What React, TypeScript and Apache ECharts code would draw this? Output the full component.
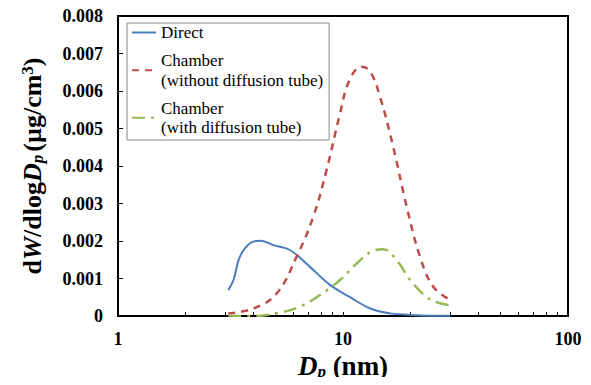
import React, { useEffect, useRef } from "react";
import * as echarts from "echarts";

const directX = [3.09, 3.26, 3.48, 3.86, 4.28, 4.9, 5.81, 7.13, 8.75, 10.7, 13.2, 16.2, 19.8, 24.5, 29.9];
const directY = [0.00069, 0.00096, 0.00158, 0.00194, 0.00201, 0.00189, 0.00176, 0.00131, 0.00083, 0.00051, 0.0002, 0.00007, 0.00003, 0.00001, 0.00001];

const noTubeX = [3.09, 4.0, 5.07, 6.22, 7.38, 8.46, 9.7, 10.7, 12.1, 13.2, 14.6, 16.7, 19.2, 22.0, 25.2, 29.9];
const noTubeY = [0.00007, 0.0002, 0.0006, 0.00158, 0.00265, 0.0039, 0.0054, 0.0063, 0.00665, 0.00652, 0.00585, 0.00452, 0.00291, 0.00158, 0.00078, 0.00043];

const tubeX = [3.09, 4.0, 5.25, 6.44, 7.9, 9.7, 11.5, 13.6, 15.1, 17.3, 19.9, 23.5, 27.0, 29.9];
const tubeY = [0.00001, 0.0, 0.00009, 0.00025, 0.00056, 0.00096, 0.0014, 0.00174, 0.00178, 0.00149, 0.00096, 0.00051, 0.00034, 0.00029];

const seriesNames = ["Direct", "Chamber\n(without diffusion tube)", "Chamber\n(with diffusion tube)"];
const xTicks = [1, 2, 3, 4, 5, 6, 7, 8, 9, 10, 20, 30, 40, 50, 60, 70, 80, 90, 100];
const xLabels = [1, 10, 100];

const zip = (xs: number[], ys: number[]) => xs.map((x, i) => [x, ys[i]]);

const SERIF = "Liberation Serif";
const tickRich = { t: { fontFamily: SERIF, fontSize: 18, fontWeight: "bold", color: "#000" } };

export default function App() {
  const ref = useRef<HTMLDivElement>(null);
  useEffect(() => {
    if (!ref.current) return;
    const chart = echarts.init(ref.current, undefined, { renderer: "svg" });
    chart.setOption({
      animation: false,
      backgroundColor: "#fff",
      textStyle: { fontFamily: SERIF },
      grid: {
        left: 118,
        right: 23,
        top: 16,
        bottom: 69,
        show: true,
        borderColor: "#000",
        borderWidth: 2,
      },
      legend: {
        orient: "vertical",
        left: 127,
        top: 23,
        data: seriesNames,
        backgroundColor: "#fff",
        borderColor: "#888",
        borderWidth: 1,
        padding: [1, 6, 4, 4],
        itemWidth: 24,
        itemHeight: 10,
        itemGap: 11,
        itemStyle: { opacity: 0 },
        formatter: (name: string) => name.split("\n").map((s) => `{l|${s}}`).join("\n"),
        textStyle: {
          rich: {
            l: { fontFamily: SERIF, fontSize: 17, color: "#000", lineHeight: 19.5 },
          },
        },
      },
      xAxis: {
        type: "log",
        logBase: 10,
        min: 1,
        max: 100,
        name: "{i|D}{sub|p}{n| (nm)}",
        nameLocation: "middle",
        nameGap: 34,
        nameTextStyle: {
          rich: {
            i: { fontFamily: SERIF, fontSize: 27, fontWeight: "bold", fontStyle: "italic", color: "#000" },
            sub: { fontFamily: SERIF, fontSize: 17, fontWeight: "bold", fontStyle: "italic", color: "#000", verticalAlign: "bottom", padding: [10, 0, 0, 0] },
            n: { fontFamily: SERIF, fontSize: 27, fontWeight: "bold", color: "#000" },
          },
        },
        axisLine: { lineStyle: { color: "#000", width: 2 } },
        axisTick: { inside: true, length: 4, customValues: xTicks, lineStyle: { color: "#000", width: 1 } },
        axisLabel: {
          customValues: xLabels,
          margin: 14,
          formatter: (v: number) => `{t|${v}}`,
          rich: tickRich,
        },
        splitLine: { show: false },
        minorTick: { show: false },
      },
      yAxis: {
        type: "value",
        min: 0,
        max: 0.008,
        interval: 0.001,
        name: "{n|d}{i|W}{n|/dlog}{i|D}{sub|p}{n|(µg/cm}{sup|3}{n|)}",
        nameLocation: "middle",
        nameGap: 72,
        nameRotate: 90,
        nameTextStyle: {
          rich: {
            n: { fontFamily: SERIF, fontSize: 26, fontWeight: "bold", color: "#000" },
            i: { fontFamily: SERIF, fontSize: 26, fontWeight: "bold", fontStyle: "italic", color: "#000" },
            sub: { fontFamily: SERIF, fontSize: 17, fontWeight: "bold", fontStyle: "italic", color: "#000", verticalAlign: "bottom", padding: [10, 3, 0, 0] },
            sup: { fontFamily: SERIF, fontSize: 17, fontWeight: "bold", color: "#000", verticalAlign: "top", padding: [0, 0, 10, 0] },
          },
        },
        axisLine: { show: true, lineStyle: { color: "#000", width: 2 } },
        axisTick: { show: true, inside: true, length: 5, lineStyle: { color: "#000", width: 1 } },
        axisLabel: {
          margin: 15,
          formatter: (v: number) => `{t|${v === 0 ? "0" : v.toFixed(3)}}`,
          rich: tickRich,
        },
        splitLine: { show: false },
      },
      series: [
        {
          name: seriesNames[0],
          type: "line",
          data: zip(directX, directY),
          smooth: 0.4,
          symbol: "none",
          lineStyle: { color: "#4a7ebb", width: 2 },
          itemStyle: { color: "#4a7ebb" },
        },
        {
          name: seriesNames[1],
          type: "line",
          data: zip(noTubeX, noTubeY),
          smooth: 0.4,
          symbol: "none",
          lineStyle: { color: "#be4b48", width: 2.5, type: [7, 6] },
          itemStyle: { color: "#be4b48" },
        },
        {
          name: seriesNames[2],
          type: "line",
          data: zip(tubeX, tubeY),
          smooth: 0.4,
          symbol: "none",
          lineStyle: { color: "#98b954", width: 2.5, type: [13, 6, 3, 6] },
          itemStyle: { color: "#98b954" },
        },
      ],
    });
    return () => chart.dispose();
  }, []);
  return <div ref={ref} style={{ width: 591, height: 385, margin: -8 }} />;
}
